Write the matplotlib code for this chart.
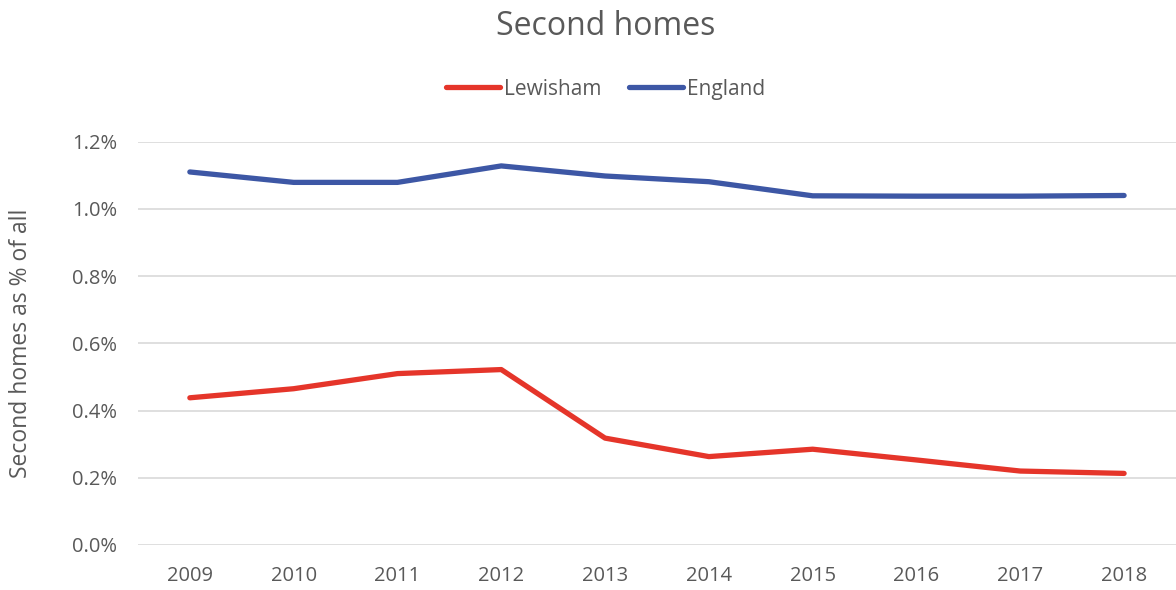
import matplotlib.pyplot as plt
from matplotlib.ticker import FuncFormatter

# second homes as a share of all dwellings
years = ['2009', '2010', '2011', '2012', '2013', '2014', '2015', '2016', '2017', '2018']
lewisham = [0.438, 0.465, 0.510, 0.522, 0.318, 0.263, 0.285, 0.253, 0.220, 0.213]
england = [1.110, 1.079, 1.079, 1.128, 1.098, 1.081, 1.039, 1.038, 1.038, 1.040]

grey = '#595959'
plt.rcParams['font.family'] = ['Open Sans', 'DejaVu Sans']

fig = plt.figure(figsize=(11.76, 5.9), dpi=100)
ax = fig.add_axes([0.1173, 0.0763, 0.8827, 0.6835])

x = range(len(years))
ax.plot(x, lewisham, color='#E5352A', lw=3.8, solid_capstyle='round', label='Lewisham')
ax.plot(x, england, color='#3D57A5', lw=3.8, solid_capstyle='round', label='England')

ax.set_xlim(-0.5, len(years) - 0.5)
ax.set_ylim(0, 1.2)
ax.set_yticks([0, 0.2, 0.4, 0.6, 0.8, 1.0, 1.2])
ax.yaxis.set_major_formatter(FuncFormatter(lambda v, p: '%.1f%%' % v))
ax.set_xticks(list(x))
ax.set_xticklabels(years)
ax.grid(axis='y', color='#D9D9D9', lw=1.2)
ax.set_axisbelow(True)
for s in ax.spines.values():
    s.set_visible(False)
ax.tick_params(length=0, labelsize=14.5, colors=grey)
ax.tick_params(axis='x', pad=15)
ax.tick_params(axis='y', pad=15)

ax.set_ylabel('Second homes as % of all', fontsize=16.5, color=grey, labelpad=28)
fig.text(0.515, 0.955, 'Second homes', ha='center', va='center', fontsize=23, color=grey)
fig.legend(loc='center', bbox_to_anchor=(0.515, 0.849), ncol=2, frameon=False,
           fontsize=15, labelcolor=grey, handlelength=2.6, handletextpad=0.2,
           columnspacing=1.3)

plt.savefig('out.png', dpi=100)
